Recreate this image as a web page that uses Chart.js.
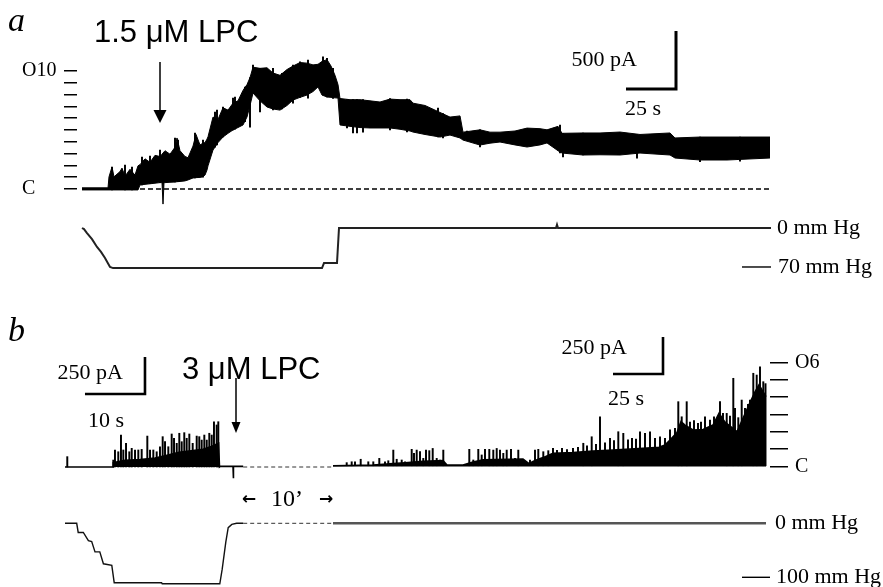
<!DOCTYPE html>
<html>
<head>
<meta charset="utf-8">
<script src="https://cdn.jsdelivr.net/npm/chart.js@4.4.1/dist/chart.umd.min.js"></script>
<style>
html, body { margin: 0; padding: 0; background: #fff; }
#fig { position: relative; width: 883px; height: 587px; overflow: hidden; background: #fff; }
.t { position: absolute; line-height: 1; white-space: nowrap; color: #000; z-index: 2; }
</style>
</head>
<body>
<div id="fig">
  <div class="t" style="left:8px;top:1px;font:italic 34px 'Liberation Serif'">a</div>
  <div class="t" style="left:94px;top:14px;font:31px 'Liberation Sans'">1.5 μM LPC</div>
  <div class="t" style="left:8px;top:311px;font:italic 34px 'Liberation Serif'">b</div>
  <div class="t" style="left:182px;top:351px;font:31px 'Liberation Sans'">3 μM LPC</div>
  <div class="t" style="left:242px;top:488px;font:bold 17px 'DejaVu Sans'">←</div>
  <div class="t" style="left:271px;top:485px;font:24px 'Liberation Serif'">10’</div>
  <div class="t" style="left:319px;top:488px;font:bold 17px 'DejaVu Sans'">→</div>
</div>
<script>
// ---- panel a: current (pA) vs time (s), noisy band read as upper / lower envelope
const timeA = [0,13,13.5,15,16,19,20,21.5,24,26.5,28,29,31.5,34,36.5,39,40,40.5,41,41.5,44,46.5,47.5,49,51.5,53,55.5,57,59,60,61.5,62.5,63,65.5,68,70.5,73,75.5,78,80.5,82.5,84,85.5,89,92.5,95.5,99,102.5,105.5,109,112.5,115.5,118,120,122.5,124.5,126.5,128,129,134,139,144,149,154,159,164,165.5,171.5,179,184,189,190.5,199,204,209,216.5,222.5,229,232.5,238,240,250.5,259,269,279,294,296.5,309,322.5,344];
const upperA = [10,10,105,190,105,150,180,110,170,120,200,210,260,230,290,280,300,310,320,330,300,360,440,330,280,270,370,470,380,390,400,430,450,620,600,700,680,740,760,850,900,960,1050,1040,1045,1000,980,1030,1060,1090,1085,1070,1075,1100,1115,1060,980,900,780,770,770,760,750,775,770,770,740,720,660,620,630,490,510,490,490,500,525,520,510,540,480,483,483,491,470,483,440,448,448,448];
const lowerA = [-8,-8,-8,-8,-8,-8,-8,-8,-8,-8,-8,35,40,45,50,55,55,-130,55,55,58,60,63,65,70,78,95,98,100,103,120,164,200,336,400,448,480,509,530,552,621,720,828,760,707,690,680,720,767,790,810,840,880,810,793,790,786,784,552,540,530,526,526,526,515,500,491,470,448,465,440,422,379,395,405,380,362,380,397,330,310,293,295,293,310,293,267,250,250,267];
// single-sweep spikes sticking out of the band (low end, high end)
const spikeTimeA = [15,21.5,25,30,34,39,46.5,48,56.5,60.5,66.5,67.5,70.5,75.5,76.5,81.5,84,85.5,89,95.5,100,105.5,109,113,120.5,122.5,125.5,132.5,135.5,137.5,140.5,154,162.5,178,180.5,192.5,199,239,240.5,250.5,277.5,309,329];
const spikeLoA = [-8,-8,-8,35,45,55,60,63,95,103,360,380,448,509,515,580,534,828,664,681,690,739,790,782,810,793,780,526,483,483,490,509,491,448,440,422,362,310,276,293,265,235,240];
const spikeHiA = [190,207,190,276,284,336,440,422,483,422,664,681,707,784,793,879,960,1069,1040,1040,997,1069,1097,1112,1140,1126,1040,770,770,770,770,780,775,698,650,500,510,552,480,483,470,448,448];
const cLineA = [29, 345];
// pressure (mm Hg)
const pressTimeA = [0,1,2.5,5,7.5,9.5,11.5,14,15.5,120,121,127.5,128.5,237,237.5,238,344.5];
const pressA = [0,-2,-9,-20,-34,-43,-54,-70,-72,-72,-63,-63,0,0,6,0,0];
const levelsA = [0,1,2,3,4,5,6,7,8,9,10];
const levelLabelsA = ['C','','','','','','','','','','O10'];
const unitA = 101.7;

// ---- panel b, before the 10 min gap (s, pA)
const spikeTimeB1 = [0.38,8.05,8.33,8.88,9.33,9.72,10.17,10.72,11.12,11.67,12.22,12.78,13.72,14.17,14.72,15.28,15.83,16.28,16.67,17.22,17.78,18.17,18.62,19.05,19.45,19.88,20.28,20.72,21.28,21.95,22.38,22.78,23.22,23.62,24.05,24.45,24.83,25.28,25.55];
const spikeB1 = [70,47,115,103,216,115,160,103,126,115,115,119,209,115,115,103,137,205,171,137,223,194,160,228,171,232,194,223,160,209,205,182,216,182,228,216,306,284,306];
const bodyTimeB1 = [0,8.0,8.05,10,12.5,15,17,19,21,23,24.5,25.6,25.75,25.9,28.0,28.05,28.1,29.7];
const bodyB1 = [0,0,30,45,50,60,80,100,110,120,140,160,0,4,4,-76,4,4];
const pressTimeB1 = [0,1.95,2.2,3.05,3.9,4.45,5.0,5.8,6.4,7.8,8.2,16.1,16.2,25.8,26.2,26.8,27.2,27.8,28.6,29.7];
const pressB1 = [0,0,-17,-17,-32,-34,-53,-53,-75,-78,-110,-110,-112,-112,-85,-35,-8,-2,0,0];
const gapB = [29.7, 44.7];

// ---- panel b, after the gap (s, pA)
const spikeTimeB2 = [6.85,9.35,11,13.85,17.65,20.15,23.15,26,27.65,30.15,31.85,34.35,36,39.35,40.5,41.85,43.5,45.15,46.5,48.15,49.85,51.85,53.5,55.15,68.15,70.15,72.65,74.35,76,78.15,80.15,81.85,83.5,85.15,86.85,89,91,92.65,95,98.5,101,102.65,105.15,107.65,110,112,114.5,117,120,122.5,125.15,127,129.35,131.5,133.5,136,138.5,140.5,142.65,145.15,147.5,149.5,151.5,153.5,156,158.5,161,163.5,166,168.5,171,172.65,174.35,176.85,178.5,180.5,182.5,184,186,188.5,190.5,192,193.5,195,196.85,198.5,200.15,201,202.65,204.35,206,207.5,208.5,210.15,211.85,213.5,215.15,216.25];
const spikeB2 = [26,32,32,49,32,32,55,32,39,111,49,44,32,116,89,111,100,55,111,107,122,55,44,111,116,44,116,78,116,116,111,122,111,89,111,116,55,111,44,44,111,116,100,107,123,110,123,115,123,130,157,140,201,150,336,160,190,175,235,224,180,190,185,235,224,235,190,200,190,247,258,438,336,438,300,310,292,300,336,314,336,300,438,359,359,340,596,393,330,449,393,420,449,630,618,674,573,560];
const bodyTimeB2 = [0,20,30,36,45,55,57,65,70,75,95,98,101,105,110,120,130,140,155,163,166,168.5,172,174,176,180,185,190,193,196,202,205,208,211,213,215,216.5];
const bodyB2 = [5,10,20,25,35,40,10,10,30,45,50,20,40,60,89,95,105,111,123,130,145,179,230,303,280,247,250,280,359,300,235,326,416,505,551,505,472];
const pressTimeB2 = [0, 216.5];
const pressB2 = [0, 0];
const levelsB = [0,1,2,3,4,5,6];
const levelLabelsB = ['C','','','','','','O6'];
const unitB = 117;

const SERIF = '"Liberation Serif", "Times New Roman", serif';
const LABEL_FONT = '22px ' + SERIF;

function xy(ts, vs) { return ts.map((t, i) => ({ x: t, y: vs[i] })); }
function xyRange(ts, lo, hi) { return ts.map((t, i) => ({ x: t, y: [lo[i], hi[i]] })); }

// pixel layout -> axis range
function xRange(zero, per, span) { return { min: -zero / per, max: (span - zero) / per }; }
function yRange(zero, per, span) { return { min: -(span - zero) / per, max: zero / per }; }

function addCanvas(left, top, w, h) {
  const c = document.createElement('canvas');
  c.width = w; c.height = h;
  c.style.cssText = `position:absolute;left:${left}px;top:${top}px;width:${w}px;height:${h}px;z-index:1`;
  document.getElementById('fig').appendChild(c);
  return c;
}

// scale bars, stimulus arrows and pressure marks, placed with the chart scales
function overlay(cfg) {
  return {
    id: 'overlay',
    afterDatasetsDraw(chart) {
      const ctx = chart.ctx, xs = chart.scales.x, ys = chart.scales.y;
      ctx.save();
      ctx.fillStyle = '#000';
      ctx.strokeStyle = '#000';
      ctx.font = LABEL_FONT;
      (cfg.bars || []).forEach(b => {
        const cx = xs.getPixelForValue(b.x), cy = ys.getPixelForValue(b.y);
        const lx = xs.getPixelForValue(b.x - b.dx), ty = ys.getPixelForValue(b.y + b.dy);
        ctx.lineWidth = b.lw;
        ctx.lineJoin = 'miter';
        ctx.beginPath();
        ctx.moveTo(cx, ty); ctx.lineTo(cx, cy); ctx.lineTo(lx, cy);
        ctx.stroke();
        ctx.textBaseline = 'alphabetic';
        ctx.textAlign = 'right';
        ctx.fillText(b.yText, cx + b.yOff[0], cy + b.yOff[1]);
        ctx.textAlign = 'left';
        ctx.fillText(b.xText, cx + b.xOff[0], cy + b.xOff[1]);
      });
      (cfg.arrows || []).forEach(a => {
        const x = xs.getPixelForValue(a.x);
        const y1 = ys.getPixelForValue(a.from), y2 = ys.getPixelForValue(a.to);
        ctx.lineWidth = 1.5;
        ctx.beginPath(); ctx.moveTo(x, y1); ctx.lineTo(x, y2 - a.head[1]); ctx.stroke();
        ctx.beginPath();
        ctx.moveTo(x - a.head[0] / 2, y2 - a.head[1]);
        ctx.lineTo(x + a.head[0] / 2, y2 - a.head[1]);
        ctx.lineTo(x, y2);
        ctx.closePath(); ctx.fill();
      });
      (cfg.marks || []).forEach(m => {
        const y = ys.getPixelForValue(m.y);
        if (m.from !== undefined) {
          ctx.lineWidth = 1.4;
          ctx.beginPath();
          ctx.moveTo(xs.getPixelForValue(m.from), y);
          ctx.lineTo(xs.getPixelForValue(m.to), y);
          ctx.stroke();
        }
        ctx.textAlign = 'left';
        ctx.textBaseline = 'middle';
        ctx.fillText(m.text, xs.getPixelForValue(m.at), y);
      });
      ctx.restore();
    }
  };
}

function levelAxis(levels, unit, labels, pos, width, tickLen, pad, align) {
  return {
    display: true,
    position: pos,
    afterBuildTicks: s => { s.ticks = levels.map(k => ({ value: k * unit })); },
    afterFit: s => { s.width = width; s.paddingTop = 0; s.paddingBottom = 0; },
    border: { display: false },
    grid: { drawOnChartArea: false, drawTicks: true, tickLength: tickLen, color: '#000', lineWidth: 1.5 },
    ticks: {
      autoSkip: false, padding: pad, crossAlign: align, color: '#000',
      font: { family: 'Liberation Serif', size: 20 },
      callback: (v, i) => labels[i]
    }
  };
}

function traceChart(canvas, datasets, xr, yr, yAxis, extras) {
  const yScale = Object.assign({ type: 'linear', min: yr.min, max: yr.max, display: false }, yAxis || {});
  return new Chart(canvas, {
    type: 'line',
    data: { datasets: datasets },
    options: {
      responsive: false,
      animation: false,
      events: [],
      layout: { padding: 0 },
      plugins: { legend: { display: false }, tooltip: { enabled: false } },
      elements: { point: { radius: 0 }, line: { tension: 0 } },
      scales: {
        x: { type: 'linear', min: xr.min, max: xr.max, display: false, offset: false },
        y: yScale
      }
    },
    plugins: [overlay(extras || {})]
  });
}

const spikeStyle = { type: 'bar', backgroundColor: '#000', barThickness: 1.3, borderWidth: 0 };

// a: current
traceChart(addCanvas(22, 0, 861, 215), [
  { data: xy(timeA, upperA), borderColor: '#000', borderWidth: 1, backgroundColor: '#000', fill: '+1' },
  { data: xy(timeA, lowerA), borderColor: '#000', borderWidth: 1, fill: false },
  Object.assign({ data: xyRange(spikeTimeA, spikeLoA, spikeHiA) }, spikeStyle),
  { data: xy(cLineA, [0, 0]), borderColor: '#000', borderWidth: 1.3, borderDash: [5, 3], fill: false }
], xRange(5, 2, 806), yRange(189, 0.116, 215),
  levelAxis(levelsA, unitA, levelLabelsA, 'left', 55, 13, 3, 'far'),
  {
    bars: [{ x: 297, y: 862, dx: 25, dy: 500, lw: 3, yText: '500 pA', yOff: [-39, -23], xText: '25 s', xOff: [-51, 26] }],
    arrows: [{ x: 39, from: 1095, to: 569, head: [13, 13] }]
  });

// a: pressure
traceChart(addCanvas(0, 215, 883, 75), [
  { data: xy(pressTimeA, pressA), borderColor: '#222', borderWidth: 2, fill: false }
], xRange(82, 2, 883), yRange(13, 0.557, 75), null,
  {
    marks: [
      { y: 0, text: '0 mm Hg', at: 347.5 },
      { y: -70, from: 330, to: 344.5, text: '70 mm Hg', at: 348 }
    ]
  });

// b: current before the gap
traceChart(addCanvas(0, 330, 333, 160), [
  Object.assign({ data: xy(spikeTimeB1, spikeB1) }, spikeStyle),
  { data: xy(bodyTimeB1, bodyB1), borderColor: '#000', borderWidth: 1.6, backgroundColor: '#000', fill: 'origin' },
  { data: xy(gapB, [0, 0]), borderColor: '#333', borderWidth: 1, borderDash: [4, 3], fill: false }
], xRange(65, 6, 333), yRange(137, 0.148, 160), null,
  {
    bars: [{ x: 13.33, y: 493, dx: 10, dy: 250, lw: 2.6, yText: '250 pA', yOff: [-22, -15], xText: '10 s', xOff: [-57, 33] }],
    arrows: [{ x: 28.5, from: 601, to: 230, head: [9, 11] }]
  });

// b: current after the gap
traceChart(addCanvas(333, 330, 550, 160), [
  Object.assign({ data: xy(spikeTimeB2, spikeB2) }, spikeStyle),
  { data: xy(bodyTimeB2, bodyB2), borderColor: '#000', borderWidth: 1.6, backgroundColor: '#000', fill: 'origin' }
], xRange(0, 2, 437), yRange(136.5, 0.148, 160),
  levelAxis(levelsB, unitB, levelLabelsB, 'right', 113, 18, 7, 'near'),
  {
    bars: [{ x: 165, y: 625, dx: 25, dy: 250, lw: 2.6, yText: '250 pA', yOff: [-36, -20], xText: '25 s', xOff: [-55, 31] }]
  });

// b: pressure before the gap
traceChart(addCanvas(0, 490, 333, 97), [
  { data: xy(pressTimeB1, pressB1), borderColor: '#111', borderWidth: 1.4, fill: false },
  { data: xy(gapB, [0, 0]), borderColor: '#333', borderWidth: 1, borderDash: [4, 3], fill: false }
], xRange(65, 6, 333), yRange(33.3, 0.54, 97), null, {});

// b: pressure after the gap
traceChart(addCanvas(333, 490, 550, 97), [
  { data: xy(pressTimeB2, pressB2), borderColor: '#555', borderWidth: 2.5, fill: false }
], xRange(0, 2, 550), yRange(33.3, 0.54, 97), null,
  {
    marks: [
      { y: 0, text: '0 mm Hg', at: 221 },
      { y: -100, from: 204.5, to: 218.5, text: '100 mm Hg', at: 221.5 }
    ]
  });
</script>
</body>
</html>
